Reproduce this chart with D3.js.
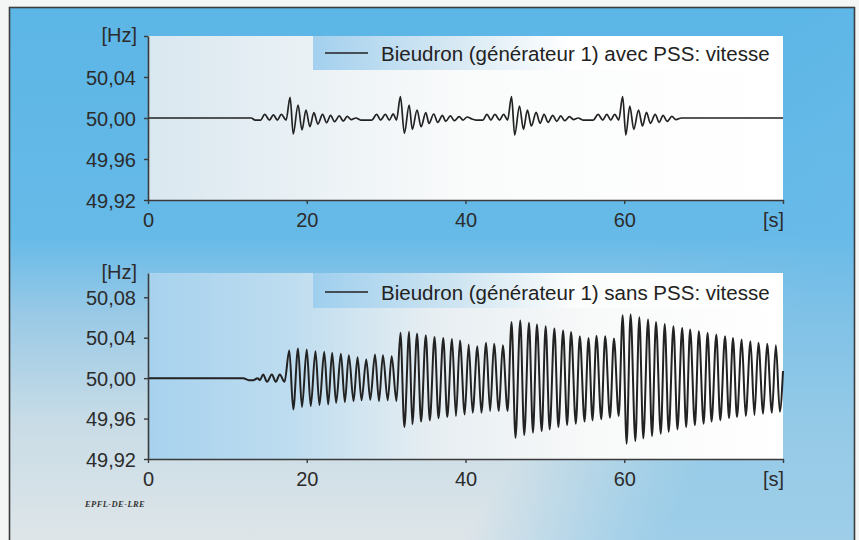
<!DOCTYPE html>
<html>
<head>
<meta charset="utf-8">
<script src="https://cdn.jsdelivr.net/npm/d3@7/dist/d3.min.js"></script>
<style>
  html, body { margin: 0; padding: 0; background: #ffffff; }
  svg { display: block; }
</style>
</head>
<body>
<svg id="chart" width="859" height="540"></svg>
<script>
// ---------------- DATA ----------------
const xTicks = [0, 20, 40, 60, 80];
const yTicks = [49.92, 49.96, 50.00, 50.04, 50.08];
const legendAvec = "Bieudron (générateur 1) avec PSS: vitesse";
const legendSans = "Bieudron (générateur 1) sans PSS: vitesse";
const unitY = "[Hz]";
const unitX = "[s]";
const credit = "EPFL-DE-LRE";

// Top chart: with PSS (time [s] of turning points, frequency [Hz])
const avecT = [0, 13.0, 13.5, 14.2, 14.7, 15.3, 15.8, 16.3, 16.8, 17.4,
  17.9, 18.3, 18.9, 19.4, 19.9, 20.4, 20.9, 21.4, 22.0, 22.5, 23.0, 23.5, 24.1, 24.6, 25.1, 25.6,
  26.2, 26.8, 28.2, 28.8, 29.3, 29.9, 30.4, 30.9, 31.3,
  31.8, 32.3, 32.9, 33.3, 33.9, 34.4, 35.0, 35.4, 36.0, 36.5, 37.1, 37.5, 38.1, 38.6, 39.2, 39.7,
  40.2, 40.8, 41.3, 42.2, 42.7, 43.2, 43.7, 44.3, 44.8, 45.3,
  45.8, 46.2, 46.8, 47.3, 47.8, 48.3, 48.9, 49.4, 49.9, 50.4, 51.0, 51.5, 52.0, 52.5, 53.1, 53.6,
  54.2, 54.8, 56.1, 56.7, 57.3, 57.8, 58.3, 58.8, 59.3,
  59.8, 60.2, 60.7, 61.2, 61.8, 62.3, 62.8, 63.3, 63.9, 64.4, 64.9, 65.4, 66.0, 66.5, 67.2, 80.0];
const avecV = [50.000, 50.000, 49.998, 49.998, 50.0035, 49.998, 50.003, 49.998, 50.0035, 49.998,
  50.0202, 49.9844, 50.0127, 49.9883, 50.0078, 49.9915, 50.0052, 49.9941, 50.0036, 49.9954, 50.0026, 49.9964, 50.0020, 49.9970, 50.0016, 49.9985,
  50.000, 49.998, 49.998, 50.0035, 49.998, 50.0035, 49.998, 50.0040, 49.998,
  50.0208, 49.9850, 50.0127, 49.9890, 50.0078, 49.9915, 50.0052, 49.9948, 50.0039, 49.9958, 50.0026, 49.9967, 50.0020, 49.9974, 50.0013, 49.9980,
  50.0010, 49.9990, 49.998, 49.998, 50.0035, 49.998, 50.0035, 49.998, 50.0035, 49.998,
  50.0208, 49.9834, 50.0117, 49.9890, 50.0078, 49.9922, 50.0055, 49.9948, 50.0036, 49.9958, 50.0026, 49.9967, 50.0020, 49.9974, 50.0013, 49.9985,
  50.000, 49.998, 49.998, 50.0035, 49.998, 50.0035, 49.998, 50.0035, 49.998,
  50.0208, 49.9834, 50.0117, 49.9890, 50.0078, 49.9922, 50.0055, 49.9948, 50.0036, 49.9958, 50.0026, 49.9967, 50.0015, 49.9985, 50.000, 50.000];

// Bottom chart: without PSS
const sansT = [0, 12.0, 12.7, 13.3, 13.8, 14.1, 14.5, 15.0, 15.6, 16.1, 16.6, 17.2,
  17.8, 18.3, 18.9, 19.4, 20.0, 20.5, 21.1, 21.6, 22.2, 22.7, 23.2, 23.7, 24.3, 24.8, 25.3, 25.9,
  26.4, 26.9, 27.5, 28.0, 28.6, 29.1, 29.6, 30.2, 30.7, 31.3,
  31.8, 32.3, 32.9, 33.3, 33.9, 34.4, 35.0, 35.5, 36.1, 36.6, 37.2, 37.7, 38.3, 38.8, 39.3, 39.9,
  40.4, 40.9, 41.5, 42.0, 42.6, 43.1, 43.6, 44.2, 44.7, 45.3,
  45.8, 46.3, 46.9, 47.4, 48.0, 48.5, 49.0, 49.6, 50.1, 50.6, 51.2, 51.7, 52.3, 52.8, 53.3, 53.9,
  54.4, 55.0, 55.5, 56.0, 56.5, 57.1, 57.6, 58.2, 58.7, 59.3,
  59.8, 60.3, 60.8, 61.4, 61.9, 62.4, 63.0, 63.5, 64.0, 64.6, 65.1, 65.6, 66.2, 66.7, 67.3, 67.8,
  68.3, 68.9, 69.4, 70.0, 70.5, 71.0, 71.6, 72.1, 72.7, 73.2, 73.7, 74.2, 74.8, 75.3, 75.9, 76.4,
  76.9, 77.5, 78.0, 78.6, 79.1, 79.6, 80.0];
const sansV = [50.000, 50.000, 49.998, 49.998, 50.000, 49.998, 50.0037, 49.9964, 50.0037, 49.9964, 50.0037, 49.9964,
  50.0274, 49.9690, 50.0293, 49.9714, 50.0283, 49.9723, 50.0267, 49.9733, 50.0260, 49.9740, 50.0250, 49.9756, 50.0240, 49.9763, 50.0227, 49.9773,
  50.0207, 49.9780, 50.0184, 49.9786, 50.0234, 49.9773, 50.0227, 49.9780, 50.0217, 49.9773,
  50.0448, 49.9516, 50.0458, 49.9543, 50.0441, 49.9570, 50.0425, 49.9582, 50.0408, 49.9602, 50.0398, 49.9615, 50.0388, 49.9625, 50.0372, 49.9641,
  50.0333, 49.9658, 50.0316, 49.9658, 50.0349, 49.9674, 50.0339, 49.9674, 50.0326, 49.9674,
  50.0556, 49.9410, 50.0570, 49.9437, 50.0547, 49.9460, 50.0530, 49.9476, 50.0514, 49.9493, 50.0490, 49.9516, 50.0471, 49.9536, 50.0457, 49.9549,
  50.0415, 49.9570, 50.0398, 49.9582, 50.0420, 49.9592, 50.0415, 49.9608, 50.0392, 49.9625,
  50.0622, 49.9351, 50.0629, 49.9378, 50.0602, 49.9404, 50.0580, 49.9427, 50.0556, 49.9450, 50.0536, 49.9470, 50.0514, 49.9493, 50.0497, 49.9516,
  50.0481, 49.9536, 50.0464, 49.9549, 50.0448, 49.9570, 50.0431, 49.9582, 50.0415, 49.9602, 50.0398, 49.9615, 50.0382, 49.9625, 50.0365, 49.9635,
  50.0349, 49.9648, 50.0339, 49.9658, 50.0326, 49.9668, 50.0070];

// ---------------- DRAWING ----------------
const svg = d3.select("#chart");
const defs = svg.append("defs");

function linGrad(id, x1, y1, x2, y2, stops) {
  const g = defs.append("linearGradient").attr("id", id)
    .attr("x1", x1).attr("y1", y1).attr("x2", x2).attr("y2", y2);
  stops.forEach(s => g.append("stop").attr("offset", s[0]).attr("stop-color", s[1]).attr("stop-opacity", s[2] === undefined ? 1 : s[2]));
}
linGrad("bgV", 0, 0, 0, 1, [[0, "#5cb6e6"], [0.42, "#66bae8"], [0.56, "#98c9e6"], [0.76, "#c8dce6"], [1, "#e0e6e9"]]);
linGrad("bgH", 0, 0, 1, 0.4, [[0, "#64b9e8", 0], [0.8, "#64b9e8", 0], [0.95, "#6abbe8", 0.45], [1, "#6abbe8", 0.55]]);
linGrad("plotTop", 0, 0, 1, 0, [[0, "#d9e7ef"], [0.3, "#edf3f6"], [0.5, "#fafbfb"], [1, "#ffffff"]]);
linGrad("plotBot", 0, 0, 1, 0, [[0, "#a7d2ee"], [0.22, "#bddcef"], [0.45, "#e7eef2"], [0.7, "#f8f9f9"], [1, "#ffffff"]]);
linGrad("legTop", 0, 0, 1, 0, [[0, "#a3d0ee"], [0.3, "#d6e8f3"], [0.55, "#ffffff"], [1, "#ffffff"]]);
linGrad("legBot", 0, 0, 1, 0, [[0, "#9fcfee"], [0.3, "#cde4f1"], [0.55, "#fbfcfc"], [1, "#ffffff"]]);

// outer area + frame
svg.append("rect").attr("x", 0).attr("y", 0).attr("width", 859).attr("height", 540).attr("fill", "#f4f5f5");
svg.append("rect").attr("x", 9).attr("y", 7).attr("width", 846).attr("height", 545).attr("fill", "url(#bgV)");
svg.append("rect").attr("x", 9).attr("y", 7).attr("width", 846).attr("height", 545).attr("fill", "url(#bgH)");
svg.append("rect").attr("x", 9.5).attr("y", 7.5).attr("width", 845).attr("height", 545)
  .attr("fill", "none").attr("stroke", "#3c3c3c").attr("stroke-width", 1.6);

const FONT = "'Liberation Sans', Arial, Helvetica, sans-serif";
const fmt = v => d3.format(".2f")(v).replace(".", ",");

function panel(cfg) {
  const x = d3.scaleLinear().domain([0, 80]).range([148, 783]);
  const y = d3.scaleLinear().domain(cfg.yDomain).range([cfg.yBottom, cfg.yTop]);
  const g = svg.append("g");

  g.append("rect").attr("x", x(0)).attr("y", cfg.yTop)
    .attr("width", x(80) - x(0)).attr("height", cfg.yBottom - cfg.yTop)
    .attr("fill", cfg.plotFill);

  // legend box
  g.append("rect").attr("x", 313).attr("y", cfg.yTop)
    .attr("width", x(80) - 313).attr("height", cfg.legH).attr("fill", cfg.legFill);
  g.append("line").attr("x1", 325).attr("x2", 368)
    .attr("y1", cfg.yTop + cfg.legLineDy).attr("y2", cfg.yTop + cfg.legLineDy)
    .attr("stroke", "#222").attr("stroke-width", 1.6);
  g.append("text").attr("x", 381).attr("y", cfg.yTop + cfg.legTextDy)
    .attr("font-family", FONT).attr("font-size", 20.5).attr("fill", "#222")
    .text(cfg.legend);

  // series
  const pts = cfg.t.map((t, i) => [t, cfg.v[i]]);
  const line = d3.line().x(d => x(d[0])).y(d => y(d[1])).curve(d3.curveMonotoneX);
  g.append("path").datum(pts).attr("d", line)
    .attr("fill", "none").attr("stroke", "#222").attr("stroke-width", cfg.lw)
    .attr("stroke-linejoin", "round");

  // axes
  const ax = g.append("g").attr("transform", `translate(0,${cfg.yBottom})`)
    .call(d3.axisBottom(x).tickValues(xTicks).tickSize(4).tickSizeOuter(0).tickPadding(9)
      .tickFormat(d => d === 80 ? "" : d));
  const ay = g.append("g").attr("transform", `translate(${x(0)},0)`)
    .call(d3.axisLeft(y).tickValues(cfg.yTicks).tickSize(4).tickSizeOuter(0).tickPadding(8)
      .tickFormat(d => cfg.labelled.includes(d) ? fmt(d) : ""));
  [ax, ay].forEach(a => {
    a.select(".domain").attr("stroke", "#3a3a3a").attr("stroke-width", 1.6);
    a.selectAll(".tick line").attr("stroke", "#3a3a3a").attr("stroke-width", 1.4);
    a.selectAll(".tick text").attr("font-family", FONT).attr("font-size", 20).attr("fill", "#2c2c2c");
  });
  ay.selectAll(".tick text").attr("dy", "0.35em");

  g.append("text").attr("x", 137).attr("y", cfg.hzBaseline).attr("text-anchor", "end")
    .attr("font-family", FONT).attr("font-size", 20).attr("fill", "#2c2c2c").text(unitY);
  g.append("text").attr("x", 784).attr("y", cfg.yBottom + 27).attr("text-anchor", "end")
    .attr("font-family", FONT).attr("font-size", 20).attr("fill", "#2c2c2c").text(unitX);
}

panel({
  yDomain: [49.92, 50.08], yTop: 36, yBottom: 200,
  yTicks: yTicks, labelled: [49.92, 49.96, 50.00, 50.04],
  plotFill: "url(#plotTop)", legFill: "url(#legTop)", legH: 34, legLineDy: 17, legTextDy: 25,
  legend: legendAvec, t: avecT, v: avecV, lw: 1.7, hzBaseline: 42
});
panel({
  yDomain: [49.92, 50.104], yTop: 273, yBottom: 459,
  yTicks: yTicks, labelled: [49.92, 49.96, 50.00, 50.04, 50.08],
  plotFill: "url(#plotBot)", legFill: "url(#legBot)", legH: 35, legLineDy: 19, legTextDy: 27,
  legend: legendSans, t: sansT, v: sansV, lw: 2, hzBaseline: 279
});

svg.append("text").attr("x", 85).attr("y", 507)
  .attr("font-family", "'Liberation Serif', 'DejaVu Serif', serif")
  .attr("font-style", "italic").attr("font-weight", "bold")
  .attr("font-size", 8.5).attr("letter-spacing", 0.4).attr("fill", "#333")
  .text(credit);
</script>
</body>
</html>
